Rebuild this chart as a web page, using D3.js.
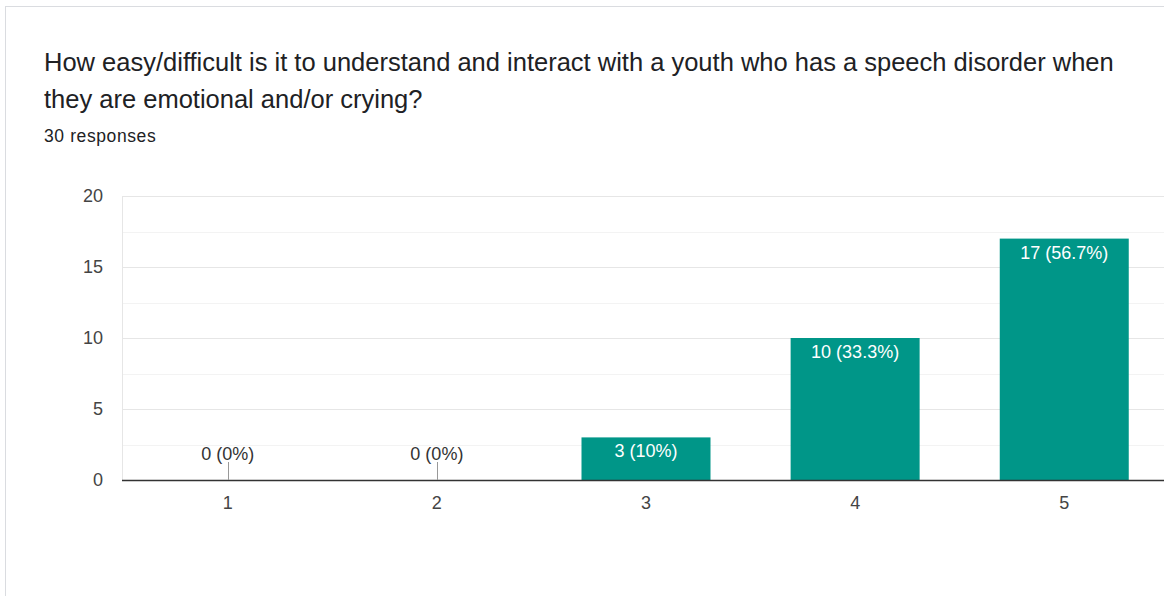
<!DOCTYPE html>
<html><head><meta charset="utf-8">
<script src="https://cdn.jsdelivr.net/npm/d3@7"></script>
<style>
html,body{margin:0;padding:0;background:#fff;overflow:hidden;}
svg{display:block;font-family:"Liberation Sans",Arial,sans-serif;}
</style></head>
<body>
<svg id="chart" width="1164" height="596"></svg>
<script>
const categories = ["1","2","3","4","5"];
const counts = [0,0,3,10,17];
const percentLabels = ["0%","0%","10%","33.3%","56.7%"];
const yTicks = [0,5,10,15,20];
const minorTicks = [2.5,7.5,12.5,17.5];
const titleLines = ["How easy/difficult is it to understand and interact with a youth who has a speech disorder when","they are emotional and/or crying?"];
const subtitle = "30 responses";

const svg = d3.select("#chart");
const FONT = '"Liberation Sans",Arial,sans-serif';
svg.append("rect").attr("x",5.5).attr("y",6.5).attr("width",1200).attr("height",620)
  .attr("fill","#fff").attr("stroke","#dadce0").attr("stroke-width",1);

const t = svg.append("text").attr("fill","#202124").attr("font-size",25.5);
t.selectAll("tspan").data(titleLines).join("tspan")
  .attr("x",44).attr("y",(d,i)=>71+i*37).text(d=>d);
svg.append("text").attr("x",44).attr("y",141.5).attr("fill","#202124").attr("font-size",17.5)
  .attr("letter-spacing","0.6px").text(subtitle);

const x = d3.scaleBand().domain(categories).range([123.5,1168.5]).paddingInner(0.383).paddingOuter(0.19);
const y = d3.scaleLinear().domain([0,20]).range([480,196]);

const g = svg.append("g");
g.selectAll("line.minor").data(minorTicks).join("line").attr("class","minor")
  .attr("x1",122).attr("x2",1164).attr("y1",d=>Math.round(y(d))+0.5).attr("y2",d=>Math.round(y(d))+0.5)
  .attr("stroke","#f3f3f3");
g.selectAll("line.major").data(yTicks.filter(d=>d>0)).join("line").attr("class","major")
  .attr("x1",122).attr("x2",1164).attr("y1",d=>Math.round(y(d))+0.5).attr("y2",d=>Math.round(y(d))+0.5)
  .attr("stroke","#e6e6e6");
g.append("line").attr("x1",122.5).attr("x2",122.5).attr("y1",196).attr("y2",480).attr("stroke","#e6e6e6");

const yAxis = d3.axisLeft(y).tickValues(yTicks).tickSize(0).tickPadding(0);
const ya = svg.append("g").attr("transform","translate(103,0)").call(yAxis);
ya.select(".domain").remove();
ya.selectAll("text").attr("font-size",18).attr("fill","#444").attr("font-family",FONT);

const data = categories.map((c,i)=>({c, v:counts[i], p:percentLabels[i]}));
const bw = 129;
svg.selectAll("rect.bar").data(data.filter(d=>d.v>0)).join("rect").attr("class","bar")
  .attr("x",d=>x(d.c)+x.bandwidth()/2-bw/2).attr("width",bw)
  .attr("y",d=>y(d.v)).attr("height",d=>y(0)-y(d.v)).attr("fill","#009688");

svg.append("line").attr("x1",122).attr("x2",1164).attr("y1",480.5).attr("y2",480.5).attr("stroke","#333").attr("stroke-width",1.5);

const xAxis = d3.axisBottom(x).tickSize(0).tickPadding(0);
const xa = svg.append("g").attr("transform","translate(0,496.5)").call(xAxis);
xa.select(".domain").remove();
xa.selectAll("text").attr("font-size",18).attr("fill","#444").attr("font-family",FONT).attr("dy","0.71em");

const cx = d=>x(d.c)+x.bandwidth()/2;
svg.selectAll("text.lab").data(data).join("text").attr("class","lab")
  .attr("x",cx).attr("y",d=>d.v>0? y(d.v)+20 : 459.5)
  .attr("text-anchor","middle").attr("font-size",18)
  .attr("fill",d=>d.v>0?"#fff":"#333")
  .text(d=>`${d.v} (${d.p})`);
svg.selectAll("line.stem").data(data.filter(d=>d.v===0)).join("line").attr("class","stem")
  .attr("x1",d=>Math.round(cx(d))+0.5).attr("x2",d=>Math.round(cx(d))+0.5).attr("y1",462).attr("y2",480)
  .attr("stroke","#999");
</script>
</body></html>
